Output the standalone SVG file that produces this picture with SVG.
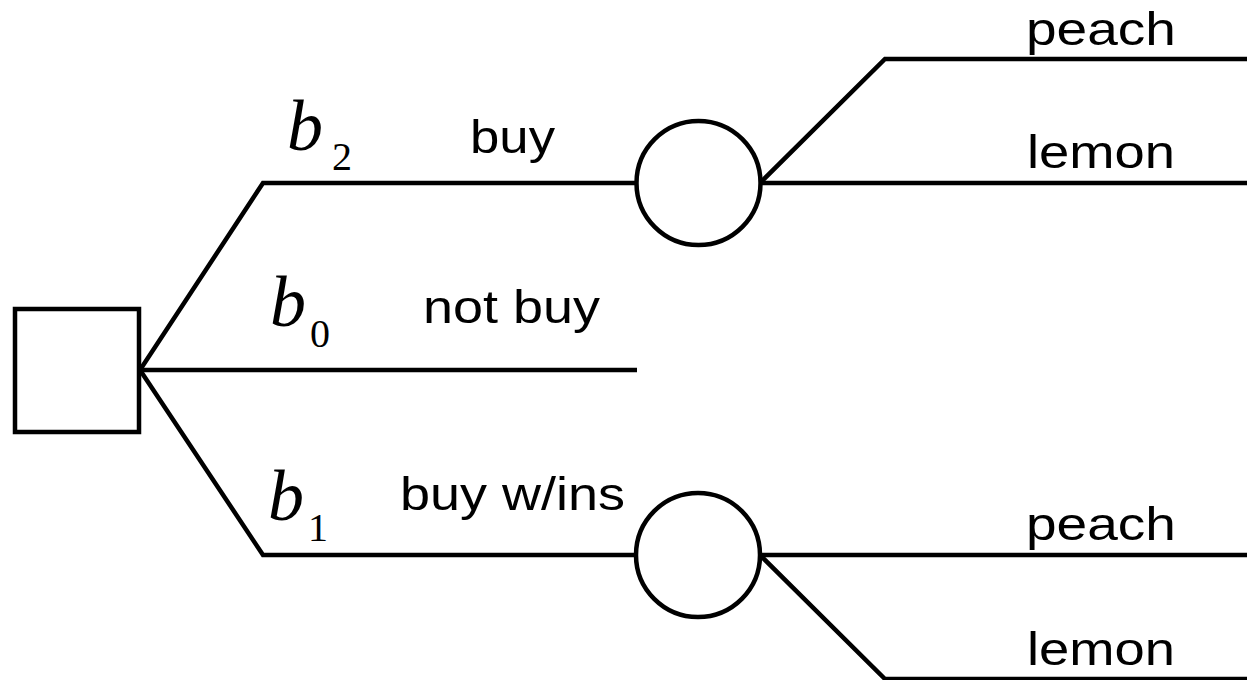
<svg xmlns="http://www.w3.org/2000/svg" width="1247" height="680" viewBox="0 0 1247 680">
<style>
.ln{fill:none;stroke:#000;stroke-width:4.5;stroke-linejoin:miter}
.nd{fill:#fff;stroke:#000;stroke-width:4.5}
.lb{font-family:"Liberation Sans",Arial,sans-serif;font-size:46px;fill:#000}
.b{font-family:"Liberation Serif","Times New Roman",serif;font-style:italic;font-size:72px;fill:#000}
.sub{font-family:"Liberation Serif","Times New Roman",serif;font-size:40px;fill:#000}
</style>
<rect width="1247" height="680" fill="#fff"/>
<g id="connectors">
<polyline class="ln" points="140,370 263,183 637,183"/>
<polyline class="ln" points="140,370 637,370"/>
<polyline class="ln" points="140,370 263,555 637,555"/>
<polyline class="ln" points="760,183 885,59 1247,59"/>
<polyline class="ln" points="760,183 1247,183"/>
<polyline class="ln" points="760,555 1247,555"/>
<polyline class="ln" points="760,555 885,679 1247,679"/>
</g>
<g id="decision"><rect class="nd" x="15" y="309" width="124" height="123"/></g>
<g id="chance-buy"><circle class="nd" cx="698.5" cy="183" r="62"/></g>
<g id="chance-ins"><circle class="nd" cx="698" cy="555" r="62"/></g>
<g id="labels">
<text class="b" x="287" y="150">b</text><text class="sub" x="332" y="170">2</text>
<text class="lb" x="470" y="153" textLength="85" lengthAdjust="spacingAndGlyphs">buy</text>
<text class="b" x="270" y="326">b</text><text class="sub" x="310" y="347">0</text>
<text class="lb" x="423" y="323" textLength="177" lengthAdjust="spacingAndGlyphs">not buy</text>
<text class="b" x="268" y="520">b</text><text class="sub" x="308" y="541">1</text>
<text class="lb" x="400" y="510" textLength="225" lengthAdjust="spacingAndGlyphs">buy w/ins</text>
<text class="lb" x="1026" y="45" textLength="150" lengthAdjust="spacingAndGlyphs">peach</text>
<text class="lb" x="1027" y="168" textLength="148" lengthAdjust="spacingAndGlyphs">lemon</text>
<text class="lb" x="1026" y="540" textLength="150" lengthAdjust="spacingAndGlyphs">peach</text>
<text class="lb" x="1027" y="665" textLength="148" lengthAdjust="spacingAndGlyphs">lemon</text>
</g>
</svg>
